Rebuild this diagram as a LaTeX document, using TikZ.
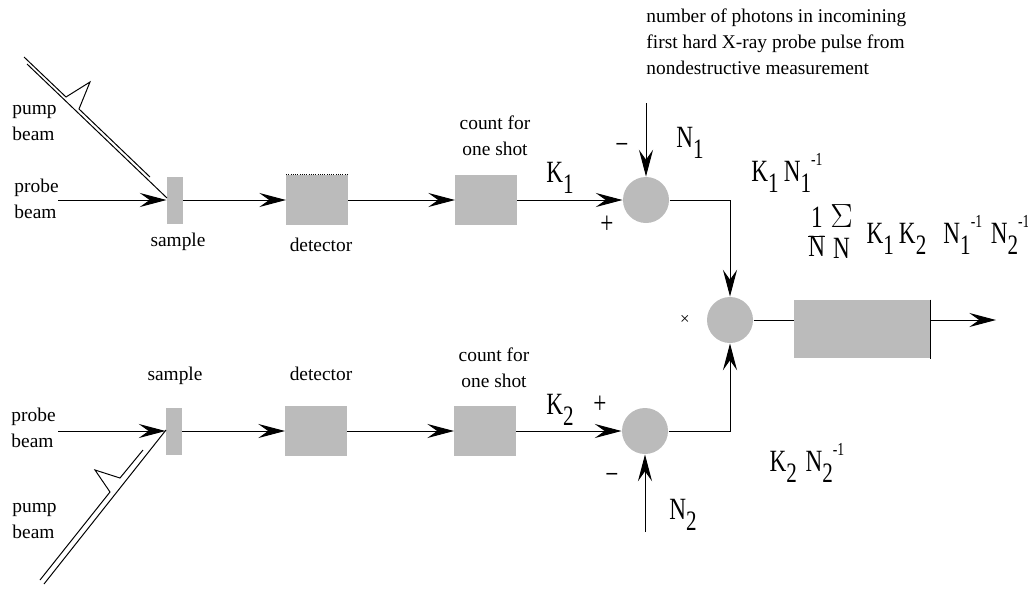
\documentclass[tikz,border=0pt]{standalone}
\usepackage{fontspec}
\setmainfont{Liberation Serif}
\newfontfamily\labfont{Liberation Serif}[FakeStretch=0.75]
\usepackage{xcolor}
\usetikzlibrary{arrows.meta,positioning}

\definecolor{blockgray}{RGB}{187,187,187}

% sub- and superscripts for the signal labels
\newcommand{\subx}[1]{\raisebox{-8pt}{\fontsize{20}{20}\selectfont #1}}
\newcommand{\supx}[1]{\raisebox{11pt}{\fontsize{13}{13}\selectfont #1}}
\newcommand{\fracN}{{\fontsize{22}{19}\selectfont\begin{tabular}[c]{@{}c@{}}1\\\hline N\end{tabular}}}
\newcommand{\sumN}{{\fontsize{22}{19}\selectfont\begin{tabular}[c]{@{}c@{}}\scalebox{1.15}[1.15]{$\Sigma$}\\[2pt]N\end{tabular}}}

\tikzset{
  txt/.style={font=\fontsize{13.8}{18.5}\selectfont, inner sep=0pt, align=center},
  sym/.style={font=\labfont\fontsize{22}{22}\selectfont, inner sep=0pt},
  block/.style={fill=blockgray, inner sep=0pt, minimum width=1.525cm, minimum height=1.25cm},
  slab/.style={fill=blockgray, inner sep=0pt, minimum width=0.4cm, minimum height=1.175cm},
  junction/.style={circle, fill=blockgray, inner sep=0pt, minimum size=1.15cm},
}

\begin{document}
\begin{tikzpicture}[x=0.025cm, y=-0.025cm, line width=0.7pt,
    >={Stealth[length=19pt,width=10pt,inset=7pt]}]
        \useasboundingbox (0,0) rectangle (1028,588);

        % Upper channel
        \node[slab] (samp1) at (175,200) {};
        \node[block] (det1) at (317,200) {};
        \node[block] (cnt1) at (486,200) {};
        \node[junction] (sum1) at (646,200) {};
        \coordinate (probe1) at (58,200);
        \coordinate (n1in) at (646,103);
        \draw[densely dotted, line width=0.6pt] (det1.north west) -- (det1.north east);

        % Lower channel
        \node[slab] (samp2) at (174,431) {};
        \node[block] (det2) at (316,431) {};
        \node[block] (cnt2) at (485,431) {};
        \node[junction] (sum2) at (645,431) {};
        \coordinate (probe2) at (58,431);
        \coordinate (n2in) at (645,532);

        % Product and average
        \node[junction] (mul) at (730,320) {};
        \node[fill=blockgray, inner sep=0pt, minimum width=3.375cm, minimum height=1.45cm] (out) at (862,329) {};
        \coordinate (outend) at (996,320);

        % Pump beams
        \draw (27,64) -- (167,198);
        \draw (24,57) -- (66,97) -- (90,82) -- (79,109) -- (150,177);
        \draw (44,584) -- (166,430);
        \draw (40,580) -- (110,492) -- (95,470) -- (120,478) -- (143,450);

        % Signal path
        \draw[->] (probe1) -- (samp1);
        \draw[->] (samp1) -- (det1);
        \draw[->] (det1) -- (cnt1);
        \draw[->] (cnt1) -- (sum1);
        \draw[->] (n1in) -- (sum1);
        \draw[->] (probe2) -- (samp2);
        \draw[->] (samp2) -- (det2);
        \draw[->] (det2) -- (cnt2);
        \draw[->] (cnt2) -- (sum2);
        \draw[->] (n2in) -- (sum2);
        \draw[->] (sum1) -| (mul);
        \draw[->] (sum2) -| (mul);
        \draw (mul) -- (mul -| out.west);
        \draw (out.north east) -- (out.south east);
        \draw[->] (mul -| out.east) -- (outend);

        % Labels
        \node[txt, anchor=west, align=left] (pump1) at (12,123) {pump\\beam};
        \node[txt, anchor=west, align=left] (probelab1) at (14,199) {probe\\beam};
        \node[txt, anchor=west, align=left] (probelab2) at (11,428) {probe\\beam};
        \node[txt, anchor=west, align=left] (pump2) at (12,521) {pump\\beam};
        \node[txt] (samplab1) at (178,242) {sample};
        \node[txt] (detlab1) at (321,245) {detector};
        \node[txt] (cntlab1) at (495,136) {count for\\one shot};
        \node[txt] (samplab2) at (175,376) {sample};
        \node[txt] (detlab2) at (321,374) {detector};
        \node[txt] (cntlab2) at (494,368) {count for\\one shot};
        \node[txt, anchor=north west, align=left] (note) at (646,8)
            {number of photons in incomining\\first hard X-ray probe pulse from\\nondestructive measurement};

        \node[sym] (k1) at (560,178) {K\subx{1}};
        \node[sym] (plus1) at (607,225) {+};
        \node[sym] (minus1) at (622,149) {−};
        \node[sym] (n1) at (690,143) {N\subx{1}};
        \node[sym] (k2) at (560,410) {K\subx{2}};
        \node[sym] (plus2) at (600,405) {+};
        \node[sym] (minus2) at (612,479) {−};
        \node[sym] (n2) at (683,515) {N\subx{2}};
        \node[sym, font=\fontsize{12}{12}\selectfont] (times) at (685,320) {×};
        \node[sym] (ratio1) at (787,173) {K\subx{1}\,N\subx{1}\supx{-1}};
        \node[sym] (ratio2) at (807,463) {K\subx{2}\;N\subx{2}\supx{-1}};
        \node[sym] (avg) at (919,236) {\fracN\,\sumN\;\,K\subx{1}\,K\subx{2}\;\;N\subx{1}\supx{-1}\;N\subx{2}\supx{-1}};
\end{tikzpicture}
\end{document}
